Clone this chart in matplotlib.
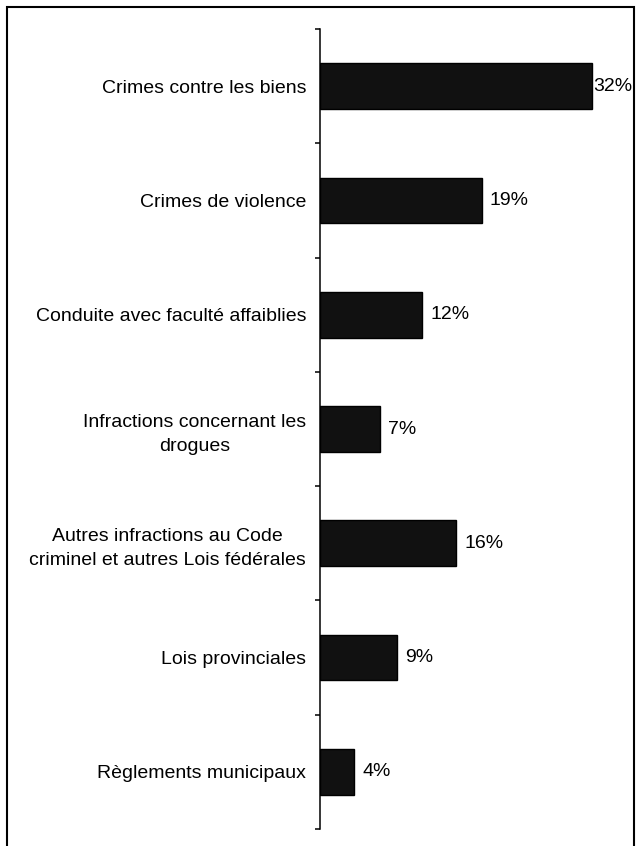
import matplotlib
matplotlib.use("Agg")
import matplotlib.pyplot as plt
from matplotlib.patches import Rectangle
import numpy as np

categories = [
    "Crimes contre les biens",
    "Crimes de violence",
    "Conduite avec faculté affaiblies",
    "Infractions concernant les\ndrogues",
    "Autres infractions au Code\ncriminel et autres Lois fédérales",
    "Lois provinciales",
    "Règlements municipaux",
]
values = [32, 19, 12, 7, 16, 9, 4]

plt.rcParams["font.family"] = ["Liberation Sans", "DejaVu Sans"]

W, H, DPI = 636, 846, 100
fig = plt.figure(figsize=(W / DPI, H / DPI), dpi=DPI)
fig.patch.set_facecolor("white")

# axes placed so the y axis sits at x=320 px and spans y=29..829 px
left, right = 320 / W, 617.5 / W
top, bottom = 1 - 29 / H, 1 - 829 / H
ax = fig.add_axes([left, bottom, right - left, top - bottom])

n = len(categories)
pos = np.arange(n)
ax.barh(pos, values, height=0.4, color="#111111", edgecolor="black", linewidth=1)

ax.set_ylim(n - 0.5, -0.5)
ax.set_xlim(0, 35)

ax.set_yticks(pos)
ax.set_yticklabels(categories, fontsize=14, multialignment="center", linespacing=1.5)
ax.tick_params(axis="y", which="major", length=0, pad=10)
ax.set_yticks(np.arange(n + 1) - 0.5, minor=True)
ax.tick_params(axis="y", which="minor", length=3.6, width=1.1, direction="out")

ax.set_xticks([])
for s in ["top", "right", "bottom"]:
    ax.spines[s].set_visible(False)
ax.spines["left"].set_linewidth(1.1)

vmax = max(values)
for y, v in zip(pos, values):
    off = 1 if v == vmax else 6
    ax.annotate(f"{v}%", xy=(v, y), xytext=(off, 0), textcoords="offset points",
                va="center", ha="left", fontsize=14)

# outer frame around the chart, open past the bottom edge
fig.patches.append(Rectangle((7 / W, -0.02), (634 - 7) / W, 1 - 7 / H + 0.02,
                             transform=fig.transFigure, fill=False,
                             edgecolor="black", linewidth=1.5))

fig.savefig("out.png", dpi=DPI)
